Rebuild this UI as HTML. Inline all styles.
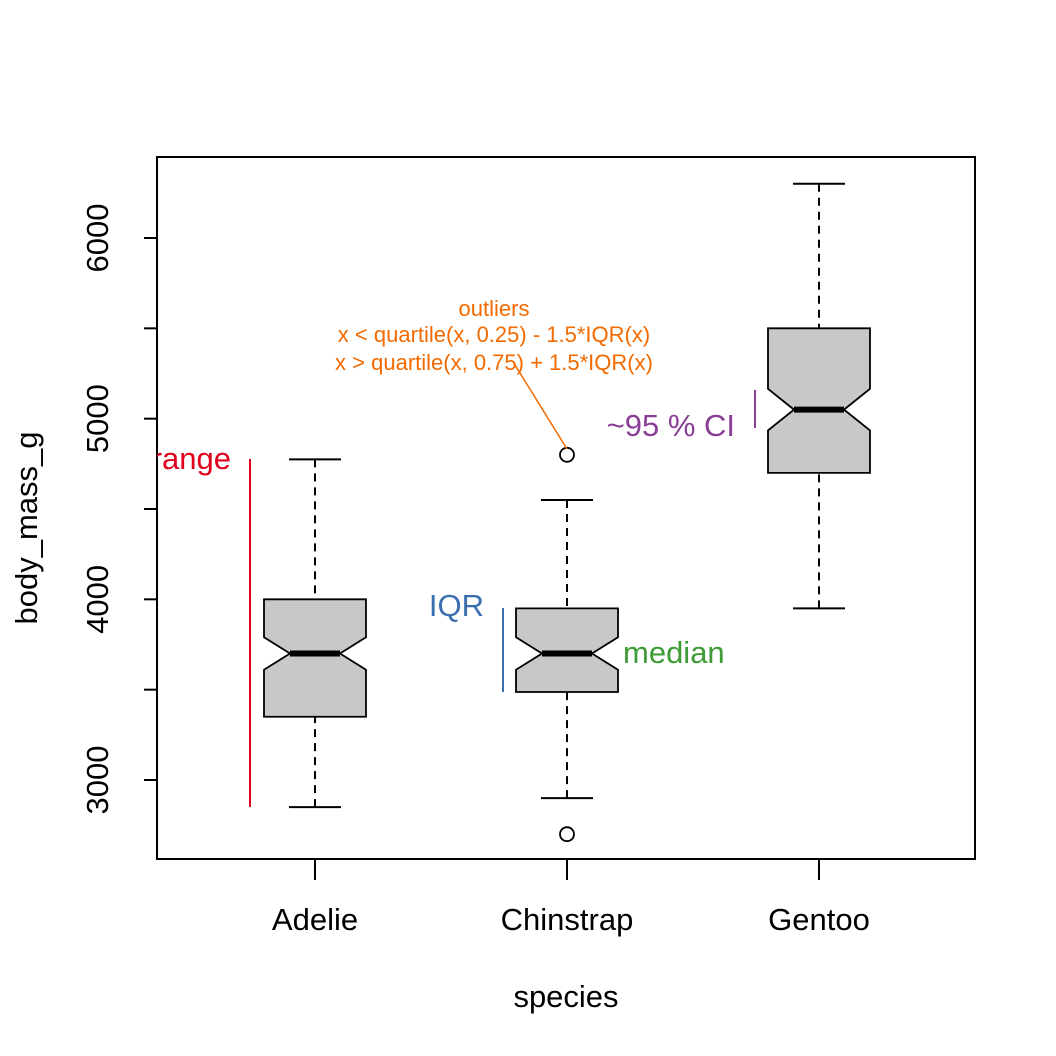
<!DOCTYPE html>
<html><head><meta charset="utf-8">
<style>
html,body{margin:0;padding:0;background:#fff;}
svg{display:block;font-family:"Liberation Sans",Arial,sans-serif;}
</style></head>
<body>
<svg id="chart" width="1056" height="1056" viewBox="0 0 1056 1056" xmlns="http://www.w3.org/2000/svg">
<defs><clipPath id="plotclip"><rect x="157" y="157" width="818" height="702"/></clipPath></defs>
<rect x="0" y="0" width="1056" height="1056" fill="#fff"/>
<g id="marks"></g>
<g id="axes"></g>
<g clip-path="url(#plotclip)">
  <line x1="250" y1="459" x2="250" y2="807" stroke="#e0001b" stroke-width="2"/>
  <text x="231" y="469" text-anchor="end" font-size="31" fill="#e0001b">range</text>
  <line x1="503" y1="608" x2="503" y2="692" stroke="#3a6fb0" stroke-width="2"/>
  <text x="484" y="616" text-anchor="end" font-size="31" fill="#3a6fb0">IQR</text>
  <text x="623" y="663" font-size="31" fill="#3e9b35">median</text>
  <line x1="755" y1="390" x2="755" y2="428" stroke="#8a3f96" stroke-width="2"/>
  <text x="735" y="436" text-anchor="end" font-size="31" fill="#8a3f96">~95 % CI</text>
  <g font-size="22" fill="#f26a00" text-anchor="middle">
    <text x="494" y="316">outliers</text>
    <text x="494" y="342">x &lt; quartile(x, 0.25) - 1.5*IQR(x)</text>
    <text x="494" y="370">x &gt; quartile(x, 0.75) + 1.5*IQR(x)</text>
  </g>
  <line x1="515" y1="365" x2="567" y2="449" stroke="#f26a00" stroke-width="1.5"/>
</g>
</svg>
<script>
const categories = ["Adelie","Chinstrap","Gentoo"];
const whiskerLow = [2850,2900,3950];
const q1 = [3350,3487,4700];
const medians = [3700,3700,5050];
const q3 = [4000,3950,5500];
const whiskerHigh = [4775,4550,6300];
const notchHalf = [90,90,115];
const outlierCat = [1,1];
const outlierVal = [2700,4800];
const yTicks = [3000,3500,4000,4500,5000,5500,6000];
const yLabels = ["3000","","4000","","5000","","6000"];

const svgNS="http://www.w3.org/2000/svg";
const L=157,R=975,T=157,B=859;
function yScale(v){return 780-(v-3000)*(780-238)/3000;}
function xScale(i){return 315+i*252;}
const marks=document.getElementById('marks'), axes=document.getElementById('axes');
function mk(tag,attrs,parent){const e=document.createElementNS(svgNS,tag);for(const k in attrs)e.setAttribute(k,attrs[k]);parent.appendChild(e);return e;}

categories.forEach((c,i)=>{
  const cx=xScale(i), hw=51, nw=25, cw=26;
  const g=mk('g',{},marks);
  
  
  const yq1=yScale(q1[i]), yq3=yScale(q3[i]), ym=yScale(medians[i]);
  const nlo=yScale(medians[i]-notchHalf[i]), nhi=yScale(medians[i]+notchHalf[i]);
  const wl=mk('line',{x1:cx,x2:cx,y1:yScale(whiskerLow[i]),y2:yq1,stroke:'#000','stroke-width':2,'stroke-dasharray':'8,6'},g);
  
  
  const wh=mk('line',{x1:cx,x2:cx,y1:yScale(whiskerHigh[i]),y2:yq3,stroke:'#000','stroke-width':2,'stroke-dasharray':'8,6'},g);
  
  
  const cl=mk('line',{x1:cx-cw,x2:cx+cw,y1:yScale(whiskerLow[i]),y2:yScale(whiskerLow[i]),stroke:'#000','stroke-width':2},g);
  
  
  const ch=mk('line',{x1:cx-cw,x2:cx+cw,y1:yScale(whiskerHigh[i]),y2:yScale(whiskerHigh[i]),stroke:'#000','stroke-width':2},g);
  
  
  const pts=[[cx-hw,yq3],[cx+hw,yq3],[cx+hw,nhi],[cx+nw,ym],[cx+hw,nlo],[cx+hw,yq1],[cx-hw,yq1],[cx-hw,nlo],[cx-nw,ym],[cx-hw,nhi]];
  const p=mk('polygon',{points:pts.map(q=>q.join(',')).join(' '),fill:'#c8c8c8',stroke:'#000','stroke-width':1.8},g);
  
  
  const m=mk('line',{x1:cx-nw,x2:cx+nw,y1:ym,y2:ym,stroke:'#000','stroke-width':6},g);
  
  
});
outlierVal.forEach((v,j)=>{
  const o=mk('circle',{cx:xScale(outlierCat[j]),cy:yScale(v),r:7,fill:'none',stroke:'#000','stroke-width':1.8},marks);
  
  
});

const frame=mk('rect',{x:L,y:T,width:R-L,height:B-T,fill:'none',stroke:'#000','stroke-width':2},axes);


yTicks.forEach((v,k)=>{
  const y=yScale(v);
  const t=mk('line',{x1:L-13,x2:L,y1:y,y2:y,stroke:'#000','stroke-width':2},axes);
  
  
  if(yLabels[k]){
    const tx=mk('text',{x:0,y:0,'font-size':31,'text-anchor':'middle',transform:`translate(108,${y}) rotate(-90)`},axes);
    tx.textContent=yLabels[k];
    
    
  }
});
categories.forEach((c,i)=>{
  const x=xScale(i);
  const t=mk('line',{x1:x,x2:x,y1:B,y2:B+21,stroke:'#000','stroke-width':2},axes);
  
  
  const tx=mk('text',{x:x,y:930,'font-size':31,'text-anchor':'middle'},axes);
  tx.textContent=c;
  
  
});
const xt=mk('text',{x:566,y:1007,'font-size':31,'text-anchor':'middle'},axes);
xt.textContent='species';


const yt=mk('text',{x:0,y:0,'font-size':31,'text-anchor':'middle',transform:'translate(37,528) rotate(-90)'},axes);
yt.textContent='body_mass_g';


</script>
</body></html>
